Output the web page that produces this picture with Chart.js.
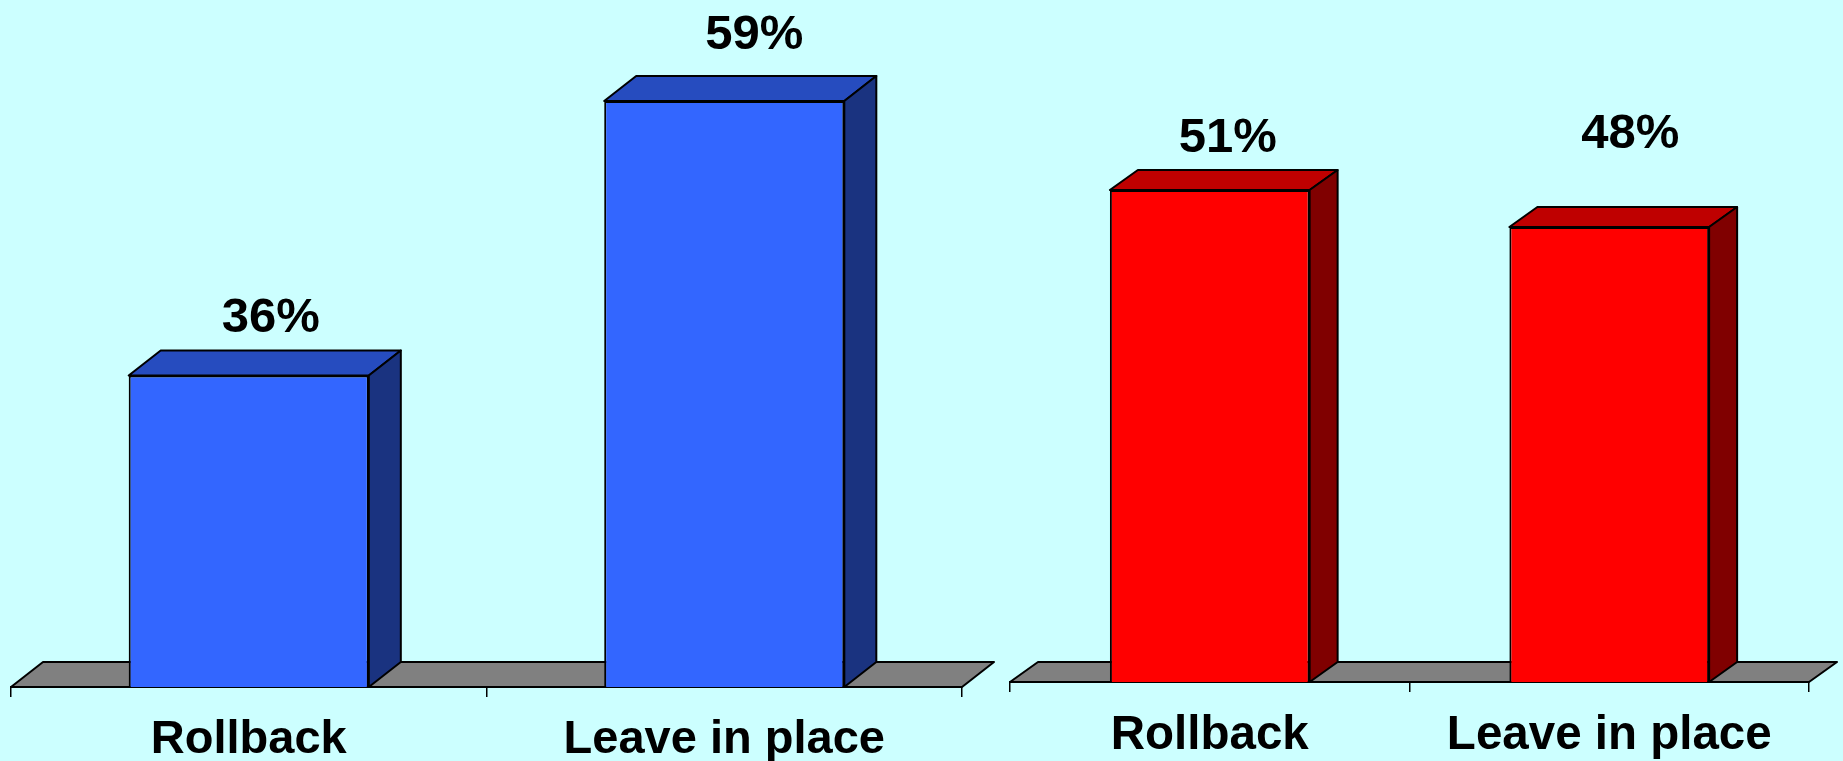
<!DOCTYPE html>
<html>
<head>
<meta charset="utf-8">
<title>Rollback vs Leave in place</title>
<style>
	html, body { margin: 0; padding: 0; width: 1843px; height: 761px; overflow: hidden; background: #ccffff; }
	canvas { position: absolute; left: 0; top: 0; }
</style>
<script src="https://cdn.jsdelivr.net/npm/chart.js@4"></script>
</head>
<body>
<canvas id="left" width="1843" height="761"></canvas>
<canvas id="right" width="1843" height="761"></canvas>
<script>
const categories = ["Rollback", "Leave in place"];
const blueValues = [36, 59];
const redValues = [51, 48];

const FONT = '"Liberation Sans", Arial, sans-serif';

// draws the fake 3d part: floor first, then top and side of each bar
const depthPlugin = {
	id: "depth",
	beforeDatasetsDraw(chart, _args, opts) {
		const { ctx, chartArea } = chart;
		const { dx, dy } = opts;
		const bottom = chartArea.bottom;

		ctx.save();
		ctx.lineWidth = 2;
		ctx.strokeStyle = "#000";
		ctx.lineJoin = "round";

		ctx.fillStyle = "#808080";
		ctx.beginPath();
		ctx.moveTo(chartArea.left, bottom);
		ctx.lineTo(chartArea.left + dx, bottom - dy);
		ctx.lineTo(chartArea.right + dx, bottom - dy);
		ctx.lineTo(chartArea.right, bottom);
		ctx.closePath();
		ctx.fill();
		ctx.stroke();

		chart.getDatasetMeta(0).data.forEach((bar) => {
			const l = bar.x - bar.width / 2;
			const r = bar.x + bar.width / 2;

			ctx.fillStyle = opts.topColor;
			ctx.beginPath();
			ctx.moveTo(l, bar.y);
			ctx.lineTo(l + dx, bar.y - dy);
			ctx.lineTo(r + dx, bar.y - dy);
			ctx.lineTo(r, bar.y);
			ctx.closePath();
			ctx.fill();
			ctx.stroke();

			ctx.fillStyle = opts.sideColor;
			ctx.beginPath();
			ctx.moveTo(r, bar.y);
			ctx.lineTo(r + dx, bar.y - dy);
			ctx.lineTo(r + dx, bottom - dy);
			ctx.lineTo(r, bottom);
			ctx.closePath();
			ctx.fill();
			ctx.stroke();
		});
		ctx.restore();
	},
	afterDatasetsDraw(chart, _args, opts) {
		const { ctx } = chart;
		const values = chart.data.datasets[0].data;
		ctx.save();
		ctx.fillStyle = "#000";
		ctx.font = "bold " + opts.labelSize + "px " + FONT;
		ctx.textAlign = "center";
		ctx.textBaseline = "alphabetic";
		chart.getDatasetMeta(0).data.forEach((bar, i) => {
			const [shiftX, shiftY] = opts.labelShift[i];
			ctx.fillText(values[i] + "%", bar.x + shiftX, bar.y - shiftY);
		});
		ctx.restore();
	},
};

function renderChart(id, values, colors, place) {
	return new Chart(document.getElementById(id), {
		type: "bar",
		data: {
			labels: categories,
			datasets: [
				{
					data: values,
					backgroundColor: colors.front,
					borderColor: "#000",
					borderWidth: 2,
					categoryPercentage: place.barShare,
					barPercentage: 1,
				},
			],
		},
		plugins: [depthPlugin],
		options: {
			responsive: false,
			animation: false,
			events: [],
			layout: {
				padding: { left: place.left, right: 1843 - place.right, top: place.top, bottom: 0 },
			},
			scales: {
				y: { display: false, min: place.min, max: 60 },
				x: {
					afterFit(scale) {
						scale.height = 761 - place.bottom;
					},
					border: { color: "#000", width: 2 },
					grid: {
						offset: true,
						drawOnChartArea: false,
						tickColor: "#000",
						tickLength: 10,
						lineWidth: 1.5,
					},
					ticks: {
						color: "#000",
						padding: place.tickPad,
						maxRotation: 0,
						font: { family: FONT, weight: "bold", size: place.tickSize },
					},
				},
			},
			plugins: {
				legend: { display: false },
				tooltip: { enabled: false },
				depth: {
					dx: place.dx,
					dy: place.dy,
					topColor: colors.top,
					sideColor: colors.side,
					labelSize: 49,
					labelShift: place.labelShift,
				},
			},
		},
	});
}

renderChart(
	"left",
	blueValues,
	{ front: "#3366ff", top: "#264cbf", side: "#1a3380" },
	{ left: 11, right: 962, top: 89, bottom: 687, min: 9.9, barShare: 0.505, dx: 32, dy: 25, tickPad: 15, tickSize: 47, labelShift: [[22, 43], [30, 52]] }
);

renderChart(
	"right",
	redValues,
	{ front: "#ff0000", top: "#bf0000", side: "#800000" },
	{ left: 1010, right: 1809, top: 79, bottom: 682, min: 11.1, barShare: 0.5, dx: 28, dy: 20, tickPad: 15, tickSize: 47.5, labelShift: [[18, 38], [21, 79]] }
);
</script>
</body>
</html>
